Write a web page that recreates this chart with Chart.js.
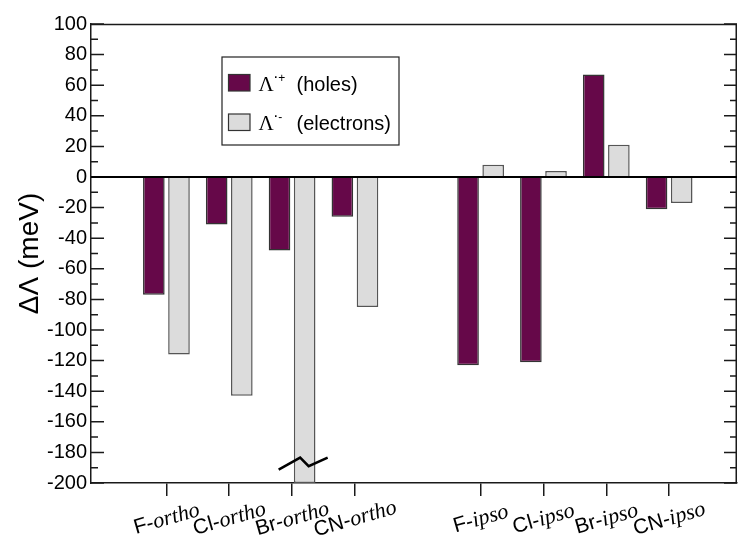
<!DOCTYPE html>
<html>
<head>
<meta charset="utf-8">
<style>
  html, body { margin: 0; padding: 0; background: #ffffff; }
  canvas { display: block; }
</style>
<script src="https://cdn.jsdelivr.net/npm/chart.js@4.4.1/dist/chart.umd.min.js"></script>
</head>
<body>
<canvas id="chart" width="738" height="545"></canvas>
<script>
// Substituent / site combinations along the x axis
const categories = ['F-ortho', 'Cl-ortho', 'Br-ortho', 'CN-ortho', 'F-ipso', 'Cl-ipso', 'Br-ipso', 'CN-ipso'];
// ΔΛ for the radical cation (holes), meV
const holes = [-77, -31, -48, -26, -123, -121, 67, -21];
// ΔΛ for the radical anion (electrons), meV
const electrons = [-116, -143, -200, -85, 8, 4, 21, -17];
// Labelled values on the y axis
const yTickValues = [-200, -180, -160, -140, -120, -100, -80, -60, -40, -20, 0, 20, 40, 60, 80, 100];
// Legend entries
const seriesNames = ['(holes)', '(electrons)'];
const seriesCharges = ['+', '-'];

const SANS = '"Liberation Sans", Arial, Helvetica, sans-serif';
const SERIF = '"Liberation Serif", "Times New Roman", serif';
const HOLE_FILL = '#660849';
const ELECTRON_FILL = '#dcdcdc';
const FRAME = '#1a1a1a';

// ortho group sits at 1..4, ipso group at 6..9 (one empty slot between them)
const xPos = (i) => i + 1 + (i >= 4 ? 1 : 0);

const frameAndTicks = {
  id: 'frameAndTicks',
  afterDatasetsDraw(chart) {
    const { ctx, chartArea: a, scales: { x, y } } = chart;
    ctx.save();
    ctx.strokeStyle = FRAME;
    ctx.lineWidth = 1.5;
    // top and right edges of the frame
    ctx.beginPath();
    ctx.moveTo(a.left, a.top + 0.5);
    ctx.lineTo(a.right - 0.75, a.top + 0.5);
    ctx.lineTo(a.right - 0.75, a.bottom);
    ctx.stroke();
    // inward ticks on both vertical edges: major every 20, minor every 10
    for (let v = y.min; v <= y.max; v += 10) {
      const py = y.getPixelForValue(v);
      const len = (v % 20 === 0) ? 13 : 7;
      ctx.beginPath();
      ctx.moveTo(a.left, py);
      ctx.lineTo(a.left + len, py);
      ctx.moveTo(a.right, py);
      ctx.lineTo(a.right - len, py);
      ctx.stroke();
    }
    // zero line
    const y0 = y.getPixelForValue(0);
    ctx.strokeStyle = '#000';
    ctx.lineWidth = 2;
    ctx.beginPath();
    ctx.moveTo(a.left, y0);
    ctx.lineTo(a.right, y0);
    ctx.stroke();
    // axis-break mark across the Br-ortho electron bar
    const bar = chart.getDatasetMeta(1).data[2];
    const cx = bar.x;
    const cy = y.getPixelForValue(-188);
    ctx.lineWidth = 2.5;
    ctx.beginPath();
    ctx.moveTo(cx - 26, cy + 5);
    ctx.lineTo(cx - 4.5, cy - 7);
    ctx.lineTo(cx + 4, cy + 1.5);
    ctx.lineTo(cx + 23, cy - 7);
    ctx.stroke();
    ctx.restore();
  }
};

const categoryLabels = {
  id: 'categoryLabels',
  afterDraw(chart) {
    const { ctx, chartArea: a, scales: { x } } = chart;
    const angle = -16 * Math.PI / 180;
    const headFont = `21px ${SANS}`;
    const tailFont = `italic 22px ${SERIF}`;
    categories.forEach((label, i) => {
      const k = label.indexOf('-') + 1;
      const head = label.slice(0, k);
      const tail = label.slice(k);
      ctx.save();
      ctx.fillStyle = '#000';
      ctx.textBaseline = 'alphabetic';
      ctx.textAlign = 'left';
      ctx.font = headFont;
      const w1 = ctx.measureText(head).width;
      ctx.font = tailFont;
      const w2 = ctx.measureText(tail).width;
      ctx.translate(x.getPixelForValue(xPos(i)), a.bottom + 35);
      ctx.rotate(angle);
      const start = -(w1 + w2) / 2;
      ctx.font = headFont;
      ctx.fillText(head, start, 7);
      ctx.font = tailFont;
      ctx.fillText(tail, start + w1, 7);
      ctx.restore();
    });
  }
};

const boxedLegend = {
  id: 'boxedLegend',
  afterDraw(chart) {
    const { ctx } = chart;
    const fills = [HOLE_FILL, ELECTRON_FILL];
    ctx.save();
    ctx.fillStyle = '#fff';
    ctx.fillRect(222, 57, 177, 88);
    ctx.strokeStyle = '#222';
    ctx.lineWidth = 1.2;
    ctx.strokeRect(222, 57, 177, 88);
    seriesNames.forEach((name, r) => {
      const top = 74.5 + r * 39.5;
      const base = 90.5 + r * 39.5;
      ctx.fillStyle = fills[r];
      ctx.fillRect(228.5, top, 21.5, 16.5);
      ctx.strokeStyle = '#333';
      ctx.lineWidth = 1.2;
      ctx.strokeRect(228.5, top, 21.5, 16.5);
      ctx.fillStyle = '#000';
      ctx.textBaseline = 'alphabetic';
      ctx.textAlign = 'left';
      ctx.font = `21px ${SERIF}`;
      ctx.fillText('Λ', 258.5, base);
      const lw = ctx.measureText('Λ').width;
      ctx.font = `bold 11px ${SANS}`;
      ctx.fillText('·', 258.5 + lw + 0.5, base - 10);
      ctx.font = `12px ${SANS}`;
      ctx.fillText(seriesCharges[r], 258.5 + lw + 4.5, base - 9);
      ctx.font = `20px ${SANS}`;
      ctx.fillText(name, 296.5, base);
    });
    ctx.restore();
  }
};

new Chart(document.getElementById('chart'), {
  type: 'bar',
  data: {
    datasets: [
      {
        label: 'holes',
        data: holes.map((v, i) => ({ x: xPos(i), y: v })),
        backgroundColor: HOLE_FILL,
        borderColor: '#333',
        borderWidth: 1.5
      },
      {
        label: 'electrons',
        data: electrons.map((v, i) => ({ x: xPos(i), y: v })),
        backgroundColor: ELECTRON_FILL,
        borderColor: '#555',
        borderWidth: 1.5
      }
    ]
  },
  options: {
    responsive: false,
    devicePixelRatio: 1,
    animation: false,
    categoryPercentage: 0.8,
    barPercentage: 0.86,
    layout: { padding: { top: 24, right: 1, left: 0, bottom: 0 } },
    plugins: {
      legend: { display: false },
      tooltip: { enabled: false }
    },
    scales: {
      x: {
        type: 'linear',
        min: -0.2,
        max: 10.08,
        offset: false,
        afterBuildTicks: (s) => { s.ticks = categories.map((_, i) => ({ value: xPos(i) })); },
        ticks: { display: false },
        grid: { display: true, offset: false, drawOnChartArea: false, drawTicks: true, tickLength: 13, color: FRAME, lineWidth: 1.5 },
        border: { display: true, color: FRAME, width: 1.5 },
        afterFit: (s) => { s.height = 62; }
      },
      y: {
        min: -200,
        max: 100,
        afterBuildTicks: (s) => { s.ticks = yTickValues.map((v) => ({ value: v })); },
        ticks: { font: { family: SANS, size: 20 }, color: '#000', padding: 4, autoSkip: false },
        grid: { display: false, drawTicks: false },
        border: { display: true, color: FRAME, width: 1.5 },
        title: {
          display: true,
          text: 'ΔΛ (meV)',
          font: { family: SANS, size: 28 },
          color: '#000',
          padding: { top: 13, bottom: 0 }
        },
        afterFit: (s) => { s.width = 91; }
      }
    }
  },
  plugins: [frameAndTicks, categoryLabels, boxedLegend]
});
</script>
</body>
</html>
